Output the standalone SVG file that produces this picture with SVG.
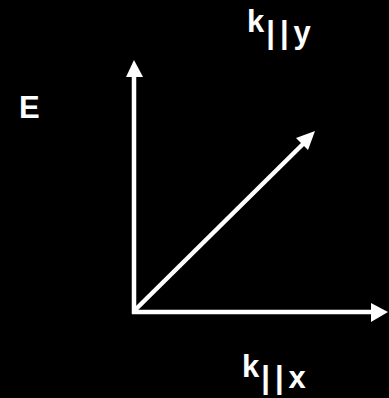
<svg xmlns="http://www.w3.org/2000/svg" width="389" height="398" viewBox="0 0 389 398">
<style>
.t{font-family:"Liberation Sans",Arial,sans-serif;font-weight:bold;fill:#fff;font-size:31px}
.ax{stroke:#fff;stroke-width:4.5;fill:none}
.hd{fill:#fff}
</style>
<rect width="389" height="398" fill="#000"/>
<g id="connectors">
<line class="ax" x1="134" y1="314" x2="134" y2="74"/>
<polygon class="hd" points="134,60 126,77 143,77"/>
<line class="ax" x1="132" y1="312" x2="374" y2="312"/>
<polygon class="hd" points="388,312 371,303 371,322"/>
<line class="ax" x1="134" y1="311" x2="303" y2="144"/>
<polygon class="hd" points="315,131 296,138 308,150"/>
</g>
<g id="E"><text class="t" x="19" y="118">E</text></g>
<g id="kyy"><text class="t" x="247" y="32">k<tspan dx="2" dy="11" letter-spacing="5">||y</tspan></text></g>
<g id="kxx"><text class="t" x="242" y="377">k<tspan dx="2" dy="11" letter-spacing="5">||x</tspan></text></g>
</svg>
